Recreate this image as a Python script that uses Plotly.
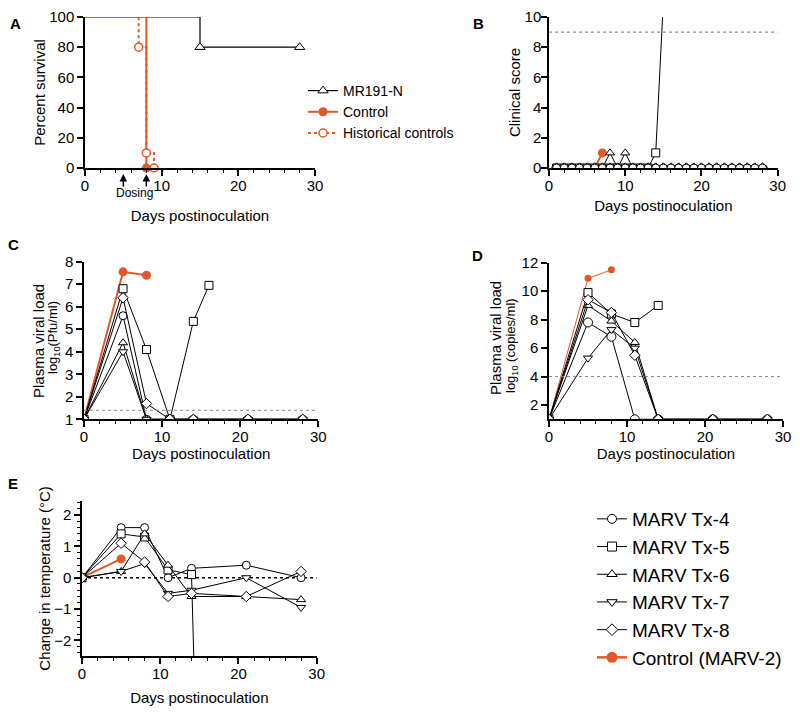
import plotly.graph_objects as go

ORANGE = "#E1582A"
FONT = "Liberation Sans, Arial, sans-serif"

# ---- Panel A: survival ----
surv_mr191_days = [0, 15, 28]
surv_mr191 = [100, 80, 80]
surv_ctrl_days = [0, 8]
surv_ctrl = [100, 0]
surv_hist_days = [0, 7, 8, 9]
surv_hist = [100, 80, 10, 0]
dosing_days = [5, 8]

# ---- Panel B: clinical score ----
score_days = [1, 2, 3, 4, 5, 6, 7, 8, 9, 10, 11, 12, 13, 14,
              15, 16, 17, 18, 19, 20, 21, 22, 23, 24, 25, 26, 27, 28]
score_tx4 = [0, 0, 0, 0, 0, 0, 0, 0, 0, 0, 0, 0, 0, 0,
             0, 0, 0, 0, 0, 0, 0, 0, 0, 0, 0, 0, 0, 0]
score_tx6 = [0, 0, 0, 0, 0, 0, 0, 1, 0, 1, 0, 0, 0, 0,
             0, 0, 0, 0, 0, 0, 0, 0, 0, 0, 0, 0, 0, 0]
score_tx7 = [0, 0, 0, 0, 0, 0, 0, 0, 0, 0, 0, 0, 0, 0,
             0, 0, 0, 0, 0, 0, 0, 0, 0, 0, 0, 0, 0, 0]
score_tx8 = [0, 0, 0, 0, 0, 0, 0, 0, 0, 0, 0, 0, 0, 0,
             0, 0, 0, 0, 0, 0, 0, 0, 0, 0, 0, 0, 0, 0]
score_tx5_days = [1, 2, 3, 4, 5, 6, 7, 8, 9, 10, 11, 12, 13, 14, 15]
score_tx5 = [0, 0, 0, 0, 0, 0, 0, 0, 0, 0, 0, 0, 0, 1, 11]
score_ctrl_days = [1, 2, 3, 4, 5, 6, 7]
score_ctrl = [0, 0, 0, 0, 0, 0, 1]
score_limit = 9

# ---- Panel C: plasma viral load (pfu) ----
pfu_days = [0, 5, 8, 11, 14, 21, 28]
pfu_tx4 = [1, 5.6, 1, 1, 1, 1, 1]
pfu_tx6 = [1, 4.4, 1, 1, 1, 1, 1]
pfu_tx7 = [1, 4.0, 1, 1, 1, 1, 1]
pfu_tx8 = [1, 6.4, 1.7, 1, 1, 1, 1]
pfu_tx5_days = [0, 5, 8, 11, 14, 16]
pfu_tx5 = [1, 6.8, 4.1, 1, 5.35, 6.95]
pfu_ctrl_days = [0, 5, 8]
pfu_ctrl = [1, 7.55, 7.4]
pfu_lod = 1.4

# ---- Panel D: plasma viral load (copies) ----
rna_days = [0, 5, 8, 11, 14, 21, 28]
rna_tx4 = [1, 7.8, 6.8, 1, 1, 1, 1]
rna_tx6 = [1, 9.0, 7.9, 6.4, 1, 1, 1]
rna_tx7 = [1, 5.3, 7.3, 6.0, 1, 1, 1]
rna_tx8 = [1, 9.4, 8.5, 5.5, 1, 1, 1]
rna_tx5_days = [0, 5, 8, 11, 14]
rna_tx5 = [1, 9.9, 8.4, 7.8, 9.0]
rna_ctrl_days = [0, 5, 8]
rna_ctrl = [1, 10.9, 11.5]
rna_lod = 4

# ---- Panel E: temperature change ----
temp_days = [0, 5, 8, 11, 14, 21, 28]
temp_tx4 = [0, 1.6, 1.6, 0.0, 0.3, 0.4, 0.0]
temp_tx6 = [0, 0.2, 1.4, 0.4, -0.6, -0.6, -0.7]
temp_tx7 = [0, 0.2, 0.45, -0.5, -0.4, 0.0, -0.95]
temp_tx8 = [0, 1.1, 0.5, -0.6, -0.5, -0.6, 0.2]
temp_tx5_days = [0, 5, 8, 11, 14, 15]
temp_tx5 = [0, 1.4, 1.3, 0.25, 0.1, -9]
temp_ctrl_days = [0, 5]
temp_ctrl = [0, 0.6]

animals = ["MARV Tx-4", "MARV Tx-5", "MARV Tx-6", "MARV Tx-7", "MARV Tx-8"]
symbols = ["circle", "square", "triangle-up", "triangle-down", "diamond"]

fig = go.Figure()


def open_marker(symbol, size=8):
    return dict(symbol=symbol, size=size, color="white", line=dict(color="black", width=1))


def add_black(x, y, symbol, xa, ya, size=8):
    fig.add_trace(go.Scatter(x=x, y=y, mode="lines+markers", xaxis=xa, yaxis=ya,
                             line=dict(color="black", width=1), marker=open_marker(symbol, size),
                             showlegend=False, cliponaxis=True))


def add_ctrl(x, y, xa, ya, width=2, size=9):
    fig.add_trace(go.Scatter(x=x, y=y, mode="lines+markers", xaxis=xa, yaxis=ya,
                             line=dict(color=ORANGE, width=width),
                             marker=dict(symbol="circle", size=size, color=ORANGE),
                             showlegend=False))


# Panel A
fig.add_trace(go.Scatter(x=surv_mr191_days, y=surv_mr191, mode="lines", line_shape="hv",
                         line=dict(color="black", width=1.2), showlegend=False, xaxis="x", yaxis="y",
                         cliponaxis=False))
fig.add_trace(go.Scatter(x=surv_mr191_days[1:], y=surv_mr191[1:], mode="markers",
                         marker=open_marker("triangle-up", 9), showlegend=False, xaxis="x", yaxis="y",
                         cliponaxis=False))
fig.add_trace(go.Scatter(x=surv_hist_days, y=surv_hist, mode="lines", line_shape="hv",
                         line=dict(color=ORANGE, width=2, dash="dot"), showlegend=False,
                         xaxis="x", yaxis="y", cliponaxis=False))
fig.add_trace(go.Scatter(x=surv_ctrl_days, y=surv_ctrl, mode="lines", line_shape="hv",
                         line=dict(color=ORANGE, width=2), showlegend=False, xaxis="x", yaxis="y",
                         cliponaxis=False))
fig.add_trace(go.Scatter(x=surv_hist_days[1:], y=surv_hist[1:], mode="markers",
                         marker=dict(symbol="circle", size=8, color="white",
                                     line=dict(color=ORANGE, width=1.5)),
                         showlegend=False, xaxis="x", yaxis="y", cliponaxis=False))
fig.add_trace(go.Scatter(x=surv_ctrl_days[1:], y=surv_ctrl[1:], mode="markers",
                         marker=dict(symbol="circle", size=9, color=ORANGE),
                         showlegend=False, xaxis="x", yaxis="y", cliponaxis=False))

# legend entries for A
fig.add_trace(go.Scatter(x=[None], y=[None], mode="lines+markers", name="MR191-N",
                         line=dict(color="black", width=1.2), marker=open_marker("triangle-up", 9),
                         legend="legend"))
fig.add_trace(go.Scatter(x=[None], y=[None], mode="lines+markers", name="Control",
                         line=dict(color=ORANGE, width=2),
                         marker=dict(symbol="circle", size=9, color=ORANGE), legend="legend"))
fig.add_trace(go.Scatter(x=[None], y=[None], mode="lines+markers", name="Historical controls",
                         line=dict(color=ORANGE, width=2, dash="dot"),
                         marker=dict(symbol="circle", size=8, color="white",
                                     line=dict(color=ORANGE, width=1.5)), legend="legend"))

# Panel B (circles drawn last so the baseline looks like the reference)
add_ctrl(score_ctrl_days, score_ctrl, "x2", "y2", width=2, size=9)
add_black(score_tx5_days, score_tx5, "square", "x2", "y2", 8)
add_black(score_days, score_tx6, "triangle-up", "x2", "y2", 8)
add_black(score_days, score_tx7, "triangle-down", "x2", "y2", 8)
add_black(score_days, score_tx8, "diamond", "x2", "y2", 8)
add_black(score_days, score_tx4, "circle", "x2", "y2", 8)

# Panel C
add_ctrl(pfu_ctrl_days, pfu_ctrl, "x3", "y3", width=2, size=9)
add_black(pfu_days, pfu_tx4, "circle", "x3", "y3")
add_black(pfu_tx5_days, pfu_tx5, "square", "x3", "y3")
add_black(pfu_days, pfu_tx6, "triangle-up", "x3", "y3")
add_black(pfu_days, pfu_tx7, "triangle-down", "x3", "y3")
add_black(pfu_days, pfu_tx8, "diamond", "x3", "y3")

# Panel D
add_ctrl(rna_ctrl_days, rna_ctrl, "x4", "y4", width=1, size=7)
add_black(rna_days, rna_tx4, "circle", "x4", "y4", 9)
add_black(rna_tx5_days, rna_tx5, "square", "x4", "y4")
add_black(rna_days, rna_tx6, "triangle-up", "x4", "y4")
add_black(rna_days, rna_tx7, "triangle-down", "x4", "y4")
add_black(rna_days, rna_tx8, "diamond", "x4", "y4")

# Panel E
add_ctrl(temp_ctrl_days, temp_ctrl, "x5", "y5", width=2, size=9)
add_black(temp_days, temp_tx4, "circle", "x5", "y5")
add_black(temp_tx5_days, temp_tx5, "square", "x5", "y5")
add_black(temp_days, temp_tx6, "triangle-up", "x5", "y5")
add_black(temp_days, temp_tx7, "triangle-down", "x5", "y5")
add_black(temp_days, temp_tx8, "diamond", "x5", "y5")

# legend entries for E
for name, sym in zip(animals, symbols):
    fig.add_trace(go.Scatter(x=[None], y=[None], mode="lines+markers", name=name,
                             line=dict(color="black", width=1), marker=open_marker(sym, 9),
                             legend="legend2"))
fig.add_trace(go.Scatter(x=[None], y=[None], mode="lines+markers", name="Control (MARV-2)",
                         line=dict(color=ORANGE, width=2.5),
                         marker=dict(symbol="circle", size=11, color=ORANGE), legend="legend2"))


def xaxis(domain, anchor, standoff=8):
    return dict(domain=domain, anchor=anchor, range=[0, 30], tickvals=[0, 10, 20, 30],
                automargin=False, ticklabelstandoff=-3, ticklabeloverflow="allow",
                showline=True, linecolor="black", linewidth=1.5, ticks="outside", ticklen=6,
                tickwidth=1.5, tickcolor="black", showgrid=False, zeroline=False,
                minor=dict(dtick=2, tick0=0, ticks="outside", ticklen=3, tickwidth=1,
                           tickcolor="black", showgrid=False),
                tickfont=dict(size=15, color="black"),
                title=dict(text="Days postinoculation", font=dict(size=15, color="black"),
                           standoff=standoff))


def yaxis(domain, anchor, rng, tickvals, title, standoff=0, minor=None, label_standoff=0):
    d = dict(domain=domain, anchor=anchor, range=rng, tickvals=tickvals, automargin=False,
             ticklabeloverflow="allow", ticklabelstandoff=label_standoff,
             showline=True, linecolor="black", linewidth=1.5, ticks="outside", ticklen=6,
             tickwidth=1.5, tickcolor="black", showgrid=False, zeroline=False,
             tickfont=dict(size=15, color="black"),
             title=dict(text=title, font=dict(size=15, color="black"), standoff=standoff))
    if minor:
        d["minor"] = minor
    return d


def px_x(p):
    return (p - 8) / 800


def px_y(p):
    return 1 - (p - 8) / 714


fig.update_layout(
    xaxis=xaxis([px_x(85), px_x(315)], "y", standoff=18),
    yaxis=yaxis([px_y(168), px_y(17)], "x", [0, 100], [0, 20, 40, 60, 80, 100], "Percent survival"),
    xaxis2=xaxis([px_x(549), px_x(777.7)], "y2"),
    yaxis2=yaxis([px_y(168), px_y(17)], "x2", [0, 10], [0, 2, 4, 6, 8, 10], "Clinical score",
                 label_standoff=-3),
    xaxis3=xaxis([px_x(84), px_x(318.3)], "y3", standoff=0),
    yaxis3=yaxis([px_y(419.3), px_y(261.7)], "x3", [1, 8], [1, 2, 3, 4, 5, 6, 7, 8], ""),
    xaxis4=xaxis([px_x(549), px_x(783)], "y4", standoff=0),
    yaxis4=yaxis([px_y(419.3), px_y(262.7)], "x4", [1, 12], [2, 4, 6, 8, 10, 12], ""),
    xaxis5=xaxis([px_x(82), px_x(316.7)], "y5", standoff=12),
    yaxis5=yaxis([px_y(656), px_y(501)], "x5", [-2.5, 2.45], [-2, -1, 0, 1, 2],
                 "Change in temperature (°C)",
                 minor=dict(dtick=0.2, tick0=0, ticks="outside", ticklen=3, tickwidth=1,
                            tickcolor="black", showgrid=False)),
)

# two-line y titles for the viral load panels
for text, x, y in [("Plasma viral load", 38, 341),
                   ("log<sub>10</sub>(Pfu/ml)", 53, 338),
                   ("Plasma viral load", 495, 338),
                   ("log<sub>10</sub> (copies/ml)", 511, 346)]:
    size = 15 if text.startswith("Plasma") else 13
    fig.add_annotation(x=px_x(x), y=px_y(y), xref="paper", yref="paper", text=text,
                       textangle=-90, showarrow=False, xanchor="center", yanchor="middle",
                       font=dict(size=size, color="black"))

# reference lines
fig.add_shape(type="line", xref="x2", yref="y2", x0=0, x1=30, y0=score_limit, y1=score_limit,
              line=dict(color="#777777", width=1, dash="dot"))
fig.add_shape(type="line", xref="x3", yref="y3", x0=0, x1=30, y0=pfu_lod, y1=pfu_lod,
              line=dict(color="#888888", width=1, dash="dot"))
fig.add_shape(type="line", xref="x4", yref="y4", x0=0, x1=30, y0=rna_lod, y1=rna_lod,
              line=dict(color="#888888", width=1, dash="dot"))
fig.add_shape(type="line", xref="x5", yref="y5", x0=0, x1=30, y0=0, y1=0,
              line=dict(color="black", width=1.5, dash="dot"), layer="below")

# dosing arrows
for d in dosing_days:
    fig.add_annotation(x=d, y=px_y(174), xref="x", yref="paper", ax=0, ay=14, text="",
                       showarrow=True, arrowhead=2, arrowsize=1, arrowwidth=1.5, arrowcolor="black")
fig.add_annotation(x=6.4, y=px_y(193), xref="x", yref="paper", text="Dosing", showarrow=False,
                   xanchor="center", yanchor="middle", font=dict(size=12, color="black"))

# panel letters
for letter, x, y in [("A", 15, 23), ("B", 478, 23), ("C", 13, 245), ("D", 477, 255), ("E", 13, 483)]:
    fig.add_annotation(x=px_x(x), y=px_y(y), xref="paper", yref="paper", text=f"<b>{letter}</b>",
                       xanchor="center", yanchor="middle",
                       showarrow=False, font=dict(size=15, color="black"))

fig.update_layout(
    width=800, height=714,
    margin=dict(l=0, r=0, t=0, b=0),
    paper_bgcolor="white", plot_bgcolor="white",
    font=dict(family=FONT, color="black"),
    legend=dict(x=px_x(303), y=px_y(75), xanchor="left", yanchor="top",
                font=dict(size=14), bgcolor="rgba(0,0,0,0)", tracegroupgap=0),
    legend2=dict(x=px_x(592), y=px_y(500), xanchor="left", yanchor="top",
                 font=dict(size=19), bgcolor="rgba(0,0,0,0)", tracegroupgap=0),
)

fig.write_html("out.html")
